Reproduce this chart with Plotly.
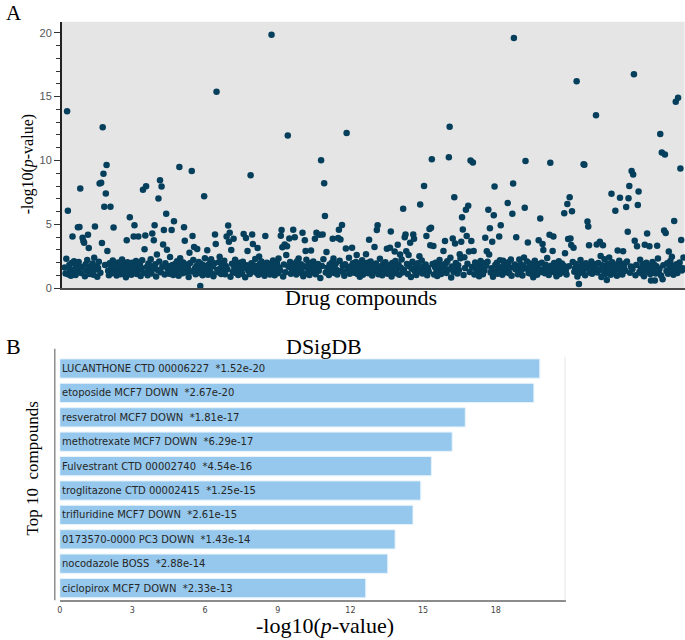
import numpy as np
import plotly.graph_objects as go

# ---------------- Panel A data: -log10(p) of all drug compounds ----------------
# compounds with a clearly separated value: (compound index, -log10 p)
out_idx = [3, 4, 10, 17, 19, 20, 23, 24, 25, 30, 31, 39, 45, 47, 48, 49, 50, 51, 53, 54,
           55, 59, 63, 80, 84, 89, 90, 95, 101, 103, 104, 105, 113, 115, 116, 119, 121, 123, 125, 127,
           128, 131, 132, 138, 141, 148, 149, 154, 155, 161, 164, 165, 167, 171, 175, 180, 184, 189, 194, 195,
           196,
           200, 209, 211, 212, 213, 215, 218, 231, 234, 236, 240, 242, 243, 249, 251, 259, 267, 279, 280, 281,
           284, 286, 287, 288, 290, 295, 297, 302, 307, 310, 311, 318, 323, 325, 329, 331, 333, 335, 336, 338,
           346, 347, 353, 354, 356, 358, 363, 364, 371, 377, 389, 393,
           400, 403, 404, 416, 420, 421, 426, 430, 433, 437, 439, 440, 441, 444, 446, 450, 451, 458, 459, 464,
           467, 471, 472, 473, 474, 476, 489, 491, 496, 497, 498, 501, 503, 504, 510, 512, 513, 514, 516, 518,
           519, 521, 522, 524, 525, 527, 528, 543, 545, 547, 548, 549, 552, 554, 555, 561, 563, 566, 572, 576,
           578, 579, 580, 583, 593, 594, 595, 598,
           612, 614, 617, 618, 626, 627, 630, 631, 645, 646, 649, 650, 652, 653, 654, 655, 657, 661, 664, 670,
           671, 675, 676, 677, 686, 687, 691, 692, 695, 700, 703, 706, 711, 714, 717, 721, 725, 727, 728, 729,
           732, 734, 735, 736, 739, 740, 741, 749, 752, 755, 757, 762, 765, 769, 771, 772, 774, 775, 776, 780,
           784, 787, 789, 792, 795, 796, 799]
out_y = [13.85, 6.07, 4.05, 4.78, 4.80, 7.8, 3.95, 3.70, 3.56, 4.19, 3.15, 4.83, 8.2, 8.25, 3.54, 12.6, 8.97, 6.38, 7.42, 9.64,
         2.92, 6.38, 4.75, 3.75, 5.56, 4.06, 4.94, 4.06, 7.70, 3.05, 4.13, 7.98, 4.29, 3.75, 4.94, 2.64, 7.03, 8.45, 7.96, 3.43,
         4.55, 5.84, 3.02, 4.55, 5.25, 9.48, 2.35, 4.78, 3.72, 2.77, 9.17, 4.08, 3.23, 3.08, 0.18, 7.19, 2.97, 2.27, 4.21, 3.46,
         15.37,
         2.46, 4.05, 4.91, 3.64, 4.34, 3.0, 3.88, 4.24, 3.93, 2.92, 8.84, 4.21, 3.46, 3.15, 2.48, 4.08, 19.84, 4.11, 4.55, 3.2,
         3.43, 2.61, 3.28, 11.96, 3.9, 4.57, 4.0, 2.33, 4.34, 3.75, 2.92, 2.95, 3.88, 4.34, 4.19, 10.02, 4.21, 8.22, 5.66, 2.84,
         3.88, 2.33, 3.93, 4.57, 3.82, 4.96, 3.12, 12.15, 3.18, 2.61, 2.66, 3.8,
         3.23, 4.55, 4.94, 3.1, 3.18, 4.44, 2.87, 3.41, 2.64, 6.23, 4.0, 4.21, 2.89, 2.61, 3.56, 4.21, 3.88, 2.51, 6.56, 8.01,
         4.08, 4.63, 3.36, 4.73, 10.1, 3.31, 2.92, 3.7, 10.26, 12.64, 2.38, 3.9, 7.13, 3.51, 2.66, 3.64, 5.56, 4.6, 2.43, 6.15,
         4.08, 6.46, 2.87, 10.0, 3.7, 9.84, 2.92, 3.95, 2.89, 6.15, 2.64, 4.7, 3.64, 5.71, 7.96, 4.05, 4.94, 2.15, 6.67, 2.25,
         5.84, 8.19, 19.59, 4.0, 2.4, 6.3, 9.95, 3.59,
         3.75, 5.45, 3.46, 3.0, 4.19, 9.82, 2.92, 4.05, 5.87, 2.74, 6.59, 3.85, 7.13, 3.9, 3.39, 6.02, 3.18, 16.2, 0.33, 9.71,
         9.66, 5.22, 4.83, 3.36, 13.54, 3.43, 3.64, 2.53, 3.36, 0.64, 2.4, 7.39, 6.07, 2.95, 7.08, 2.89, 6.36, 4.42, 7.05, 8.01,
         9.17, 8.91, 16.74, 3.72, 3.28, 6.51, 7.57, 3.41, 4.29, 3.28, 0.6, 0.6, 3.33, 12.07, 10.62, 0.7, 4.52, 10.47, 4.32, 2.87,
         2.46, 5.27, 14.6, 14.9, 9.38, 3.78, 2.4]

# the remaining compounds in the dense band, in order along the axis
band_y = [
    1.62, 1.15, 2.31, 1.08, 1.84, 1.43, 0.98, 1.97, 1.26, 2.12, 1.51, 1.03, 1.78, 1.35, 2.05, 1.19, 1.66, 0.95, 1.88, 1.41, 2.22, 1.12, 1.57, 1.74,
    1.29, 1.93, 1.06, 2.38, 1.47, 1.71, 0.91, 1.58, 2.08, 1.22, 1.83, 1.37, 1.01, 1.95, 1.64, 1.18, 2.17, 1.45, 1.27, 1.89, 0.99, 1.53, 2.01, 1.33,
    1.76, 1.09, 1.68, 2.26, 1.39, 1.14, 1.91, 1.55, 0.87, 2.03, 1.24, 1.81, 1.48, 1.05, 1.99, 1.61, 1.31, 2.14, 1.11, 1.72, 1.44, 1.86, 0.96, 1.59,
    2.19, 1.21, 1.67, 1.02, 1.94, 1.36, 1.79, 2.28, 1.16, 1.52, 1.87, 0.93, 1.42, 2.09, 1.25, 1.69, 1.07, 1.96, 1.49, 1.73, 1.13, 2.44, 1.34, 1.82,
    1.04, 1.63, 1.92, 1.28, 2.11, 1.46, 0.97, 1.77, 1.56, 1.17, 2.02, 1.38, 1.85, 1.23, 1.65, 0.89, 1.98, 1.32, 2.21, 1.54, 1.10, 1.75, 1.43, 2.06,
    1.20, 1.90, 1.50, 1.01, 1.80, 2.35, 1.30, 1.60, 1.06, 1.85, 1.40, 2.13, 1.15, 1.70, 0.94, 1.95, 1.45, 1.25, 2.04, 1.55, 1.12, 1.83, 1.35, 1.66,
    2.16, 1.09, 1.74, 1.48, 0.90, 1.92, 1.27, 1.61, 2.24, 1.19, 1.53, 1.87, 1.03, 1.44, 1.99, 1.32, 1.70, 1.14, 2.07, 1.58, 0.86, 1.81, 1.37, 1.64,
    1.11, 1.96, 1.41, 1.78, 2.29, 1.23, 1.57, 1.05, 1.89, 1.34, 2.10, 1.47, 1.16, 1.73, 0.98, 1.62, 2.00, 1.29, 1.84, 1.52, 1.08, 1.91, 1.39, 2.18,
    1.50, 1.02, 1.79, 1.33, 1.97, 1.18, 2.32, 1.63, 1.40, 0.92, 1.86, 1.26, 1.69, 2.05, 1.13, 1.55, 1.93, 1.31, 1.76, 1.07, 2.12, 1.45, 1.60, 1.21,
    1.88, 1.36, 0.95, 1.72, 2.23, 1.15, 1.56, 1.82, 1.04, 1.98, 1.43, 1.28, 2.09, 1.67, 1.10, 1.51, 1.90, 1.38, 0.80, 1.74, 2.27, 1.24, 1.60, 1.47,
    1.03, 1.85, 1.30, 1.66, 2.01, 1.19, 1.54, 1.94, 1.42, 1.08, 2.15, 1.37, 1.78, 1.25, 0.97, 1.88, 1.49, 1.64, 2.39, 1.14, 1.71, 1.32, 1.95, 1.58,
    1.22, 1.77, 2.06, 1.12, 1.45, 1.83, 0.90, 1.61, 1.35, 2.20, 1.06, 1.92, 1.50, 1.27, 1.73, 1.99, 1.17, 1.57, 2.10, 1.40, 0.99, 1.81, 1.31, 1.68,
    1.94, 1.09, 1.52, 2.30, 1.36, 1.75, 1.01, 1.87, 1.46, 1.20, 2.03, 1.63, 1.13, 1.80, 1.41, 0.93, 1.97, 1.28, 1.69, 2.14, 1.18, 1.55, 1.84, 1.05,
    1.60, 2.25, 1.23, 1.44, 1.90, 1.11, 1.73, 0.88, 1.53, 2.08, 1.34, 1.79, 1.04, 1.65, 1.96, 1.29, 1.48, 2.17, 1.15, 1.70, 1.39, 1.86, 1.02, 1.58,
    1.32, 1.89, 1.07, 1.67, 2.00, 1.43, 0.96, 1.76, 1.25, 2.22, 1.56, 1.12, 1.83, 1.38, 1.62, 1.93, 1.19, 2.11, 1.47, 0.85, 1.71, 1.30, 1.98, 1.54,
    1.16, 1.80, 1.42, 2.34, 1.03, 1.59, 1.91, 1.27, 1.66, 1.08, 2.02, 1.50, 1.74, 1.21, 1.87, 0.94, 1.45, 2.13, 1.35, 1.63, 1.10, 1.95, 1.40, 1.77,
    2.07, 1.24, 1.57, 0.91, 1.82, 1.33, 1.99, 1.14, 1.69, 2.19, 1.46, 1.05, 1.78, 1.52, 1.26, 1.92, 1.37, 2.04, 1.18, 1.61, 0.98, 1.85, 1.49, 1.72,
    1.09, 1.64, 2.26, 1.31, 1.88, 1.44, 1.00, 1.75, 1.55, 2.09, 1.20, 1.67, 1.94, 1.13, 1.42, 1.81, 0.87, 1.58, 2.16, 1.36, 1.70, 1.06, 1.90, 1.48,
    1.28, 2.00, 1.53, 1.17, 1.84, 1.39, 2.36, 1.62, 1.04, 1.76, 1.33, 1.97, 1.22, 1.60, 0.95, 1.86, 1.45, 2.12, 1.11, 1.68, 1.50, 1.93, 1.26, 1.79,
    1.41, 1.07, 1.73, 2.05, 1.30, 1.57, 1.89, 0.92, 1.65, 1.19, 2.21, 1.47, 1.82, 1.35, 1.01, 1.96, 1.54, 1.24, 1.77, 2.10, 1.14, 1.61, 1.38, 1.87,
    1.66, 1.23, 1.98, 1.46, 0.89, 1.80, 1.34, 2.28, 1.12, 1.59, 1.91, 1.29, 1.71, 1.05, 2.03, 1.43, 1.63, 1.18, 1.85, 0.97, 1.52, 2.15, 1.32, 1.75,
    1.08, 1.58, 1.94, 1.37, 2.09, 1.21, 1.70, 1.48, 1.02, 1.83, 1.27, 2.24, 1.55, 1.15, 1.90, 1.40, 0.94, 1.67, 1.99, 1.31, 1.78, 1.11, 1.60, 2.06,
    1.44, 1.86, 1.16, 1.72, 2.33, 1.25, 1.53, 0.99, 1.81, 1.36, 1.95, 1.13, 1.64, 2.13, 1.30, 1.76, 1.06, 1.50, 1.88, 1.20, 1.69, 2.01, 1.39, 1.57,
]

# ---------------- Panel B data: DSigDB top 10 ----------------
compounds = ["LUCANTHONE CTD 00006227", "etoposide MCF7 DOWN", "resveratrol MCF7 DOWN",
             "methotrexate MCF7 DOWN", "Fulvestrant CTD 00002740", "troglitazone CTD 00002415",
             "trifluridine MCF7 DOWN", "0173570-0000 PC3 DOWN", "nocodazole BOSS", "ciclopirox MCF7 DOWN"]
pvalues = [1.52e-20, 2.67e-20, 1.81e-17, 6.29e-17, 4.54e-16, 1.25e-15, 2.61e-15, 1.43e-14, 2.88e-14, 2.33e-13]
bar_ticks = [0, 3, 6, 9, 12, 15, 18]

# ---------------- build ----------------
W, H = 685, 640
def PX(x): return x / W
def PY(y): return 1 - y / H

N = max(len(band_y) + len(out_idx), max(out_idx) + 1)
y_all = [None] * N
for i, v in zip(out_idx, out_y):
    y_all[i] = v
it = iter(band_y)
for i in range(N):
    if y_all[i] is None:
        y_all[i] = next(it, None)

fig = go.Figure()
fig.add_trace(go.Scatter(x=list(range(N)), y=y_all, mode="markers",
                         marker=dict(size=6.5, color="#053f5c", line=dict(width=0)),
                         xaxis="x", yaxis="y", cliponaxis=False, showlegend=False, hoverinfo="skip"))

bar_vals = [-np.log10(p) for p in pvalues]
fig.add_trace(go.Bar(x=bar_vals, y=compounds, orientation="h", width=0.79,
                     marker=dict(color="#95c8ec", line=dict(color="#e8f3fb", width=1)),
                     xaxis="x2", yaxis="y2", showlegend=False, hoverinfo="skip"))

serif = "Liberation Serif"
ann = []
for c, p in zip(compounds, pvalues):
    ann.append(dict(x=0, y=c, xref="x2", yref="y2", xanchor="left", yanchor="middle", xshift=0,
                    text=f"{c} \u00a0*{p:.2e}", showarrow=False,
                    font=dict(family="DejaVu Sans", size=10, color="#262626")))

def txt(x, y, s, size, angle=0, family=serif):
    ann.append(dict(x=PX(x), y=PY(y), xref="paper", yref="paper", xanchor="center", yanchor="middle",
                    text=s, showarrow=False, textangle=angle, font=dict(family=family, size=size, color="black")))

txt(11, 13, "A", 21)
txt(11, 350, "B", 22)
txt(322, 350, "DSigDB", 22)
txt(360, 300, "Drug compounds", 22)
txt(26, 166, "-log10(<i>p</i>-value)", 16, -90)
txt(30, 473, "Top 10  compounds", 17, -90)
txt(323, 631, "-log10(<i>p</i>-value)", 22)

shapes = [
    dict(type="rect", xref="x domain", yref="y domain", x0=0, x1=1, y0=0, y1=1,
         fillcolor="#e5e5e5", line=dict(width=0), layer="below"),
    dict(type="line", xref="paper", yref="paper", x0=PX(52), x1=PX(52), y0=PY(352), y1=PY(606),
         line=dict(color="#8c8c8c", width=1.5)),
    dict(type="line", xref="paper", yref="paper", x0=PX(564.5), x1=PX(564.5), y0=PY(360), y1=PY(606),
         line=dict(color="#e6e6e6", width=1)),
]

fig.update_layout(
    width=W, height=H, margin=dict(l=0, r=0, t=0, b=0),
    paper_bgcolor="white", plot_bgcolor="white",
    annotations=ann, shapes=shapes, bargap=0.2,
    xaxis=dict(domain=[PX(59), PX(684.5)], range=[-3.9, 800.3], anchor="y",
               showticklabels=False, ticks="", showgrid=False, zeroline=False,
               showline=True, linecolor="#4a4a4a", linewidth=2),
    yaxis=dict(domain=[PY(291), PY(22)], range=[0, 20.85], anchor="x",
               showgrid=False, zeroline=False, showline=True, linecolor="#222", linewidth=1.5,
               ticks="outside", ticklen=6, tickcolor="#333", tickwidth=1, dtick=5, tick0=0,
               minor=dict(ticks="outside", ticklen=4, tickcolor="#333", dtick=1, showgrid=False),
               tickfont=dict(family="Liberation Sans", size=11, color="#555")),
    xaxis2=dict(domain=[PX(57), PX(565)], range=[0, 20.88], anchor="y2",
                tickvals=bar_ticks, ticks="", ticklabelstandoff=1, showgrid=False, zeroline=False,
                showline=True, linecolor="#8c8c8c", linewidth=1.5,
                tickfont=dict(family="DejaVu Sans", size=8, color="#444")),
    yaxis2=dict(domain=[PY(606), PY(359.7)], anchor="x2", type="category",
                categoryorder="array", categoryarray=compounds[::-1], range=[-0.5, 9.5],
                showticklabels=False, ticks="", showgrid=False, zeroline=False, showline=False),
)

fig.write_html("out.html", config={"displayModeBar": False},
               post_script="document.body.style.margin='0';document.body.style.overflow='hidden';")
